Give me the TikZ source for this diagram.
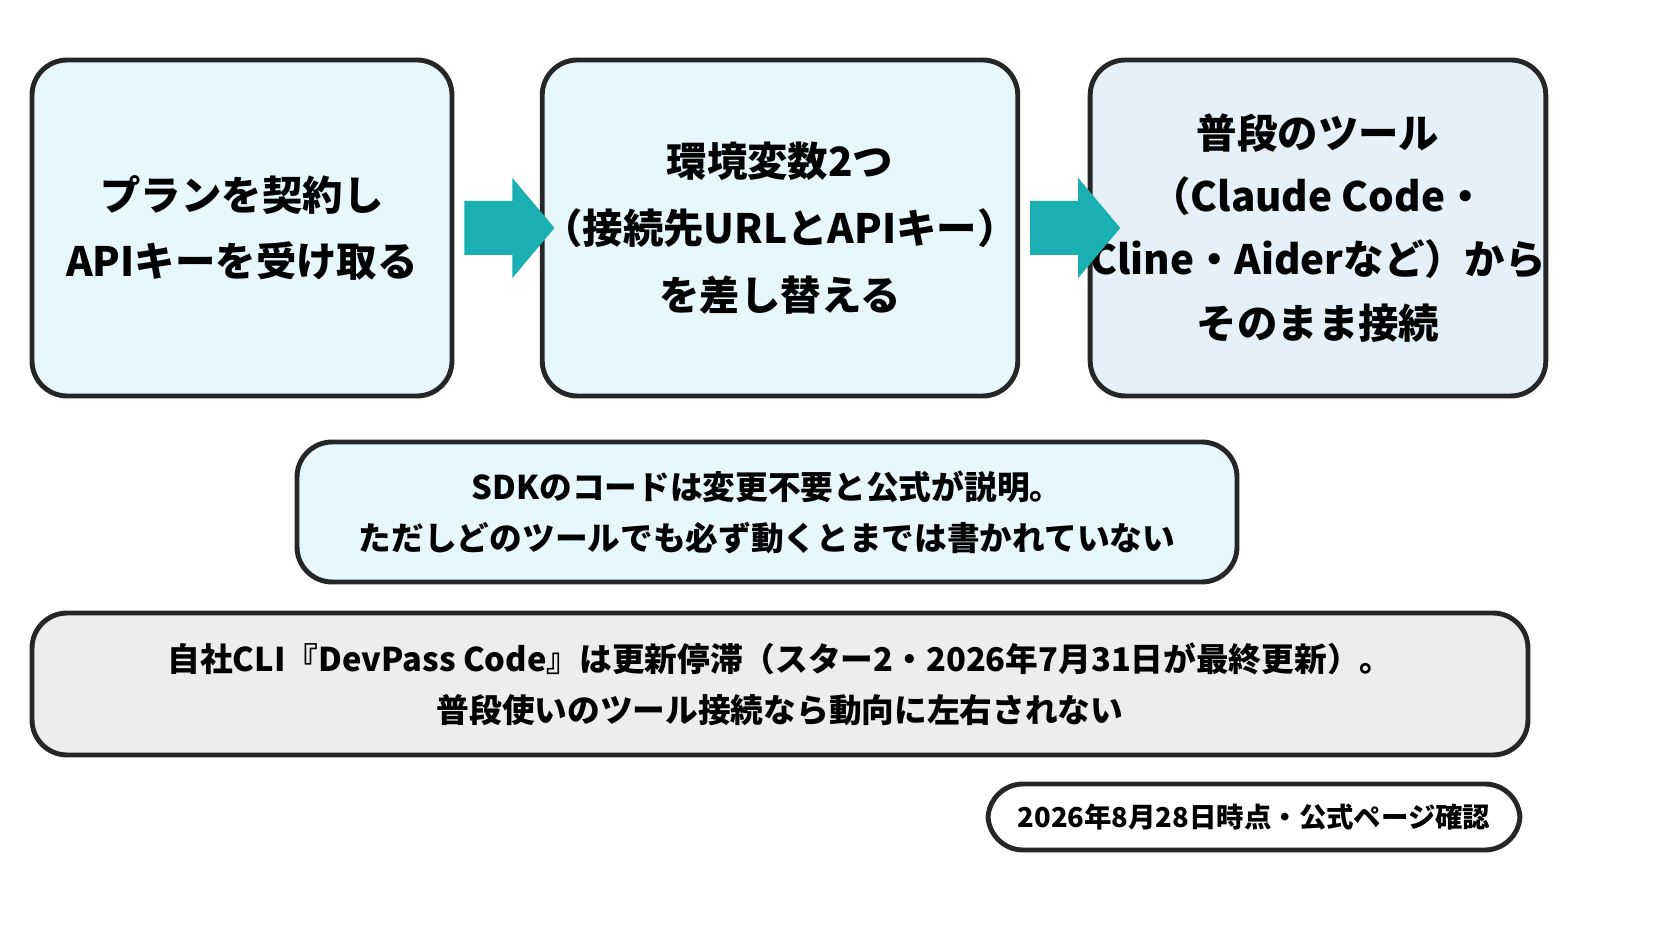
\documentclass[tikz,border=0pt]{standalone}
\usepackage{fontspec}
\setmainfont{Noto Sans CJK JP}
\usetikzlibrary{positioning}
\colorlet{cyx}{cyan!10!white}
\definecolor{tealx}{HTML}{1AAFB0}
\definecolor{bluex}{HTML}{E6F0FA}
\definecolor{grayx}{HTML}{EDEDED}

\tikzset{
  box/.style={draw=black!85,line width=1.4pt,rounded corners=10pt,align=center,
    font=\bfseries\fontsize{11.5}{19}\selectfont,inner sep=0pt},
  stepbox/.style={box,fill=cyx,minimum width=4.2cm,minimum height=3.36cm},
}

\begin{document}
\begin{tikzpicture}[x=0.1mm,y=-0.1mm]
    \useasboundingbox (0,0) rectangle (1672,941);

    \node [stepbox] (plan) at (242,228) {プランを契約し\\APIキーを受け取る};
    \node [stepbox,minimum width=4.36cm] (env) at (780,228) {環境変数2つ\\（接続先URLとAPIキー）\\を差し替える};
    \node [stepbox,fill=bluex,minimum width=4.23cm,font=\bfseries\fontsize{11.5}{18}\selectfont] (tool) at (1318,228)
        {普段のツール\\（Claude Code・\\Cline・Aiderなど）から\\そのまま接続};

    \node [box,fill=cyx,minimum width=9.4cm,minimum height=1.4cm,
        font=\bfseries\fontsize{9.3}{14.5}\selectfont] (sdk) at (767,512)
        {SDKのコードは変更不要と公式が説明。\\ただしどのツールでも必ず動くとまでは書かれていない};
    \node [box,fill=grayx,minimum width=14.96cm,minimum height=1.42cm,
        font=\bfseries\fontsize{9.3}{14.5}\selectfont] (cli) at (780,684)
        {自社CLI『DevPass Code』は更新停滞（スター2・2026年7月31日が最終更新）。\\普段使いのツール接続なら動向に左右されない};
    \node [box,fill=white,minimum width=5.32cm,minimum height=0.66cm,
        font=\bfseries\fontsize{7.8}{10}\selectfont] (date) at (1254,817)
        {2026年8月28日時点・公式ページ確認};

    % arrows between steps
    \foreach \a/\b in {plan/env,env/tool} {
        \path (\a.east) ++(10,0) coordinate (s);
        \fill [tealx] (s) ++(0,-27) -- ++(48,0) -- ++(0,-23) -- ++(42,50)
            -- ++(-42,50) -- ++(0,-23) -- ++(-48,0) -- cycle;
    }
\end{tikzpicture}
\end{document}
